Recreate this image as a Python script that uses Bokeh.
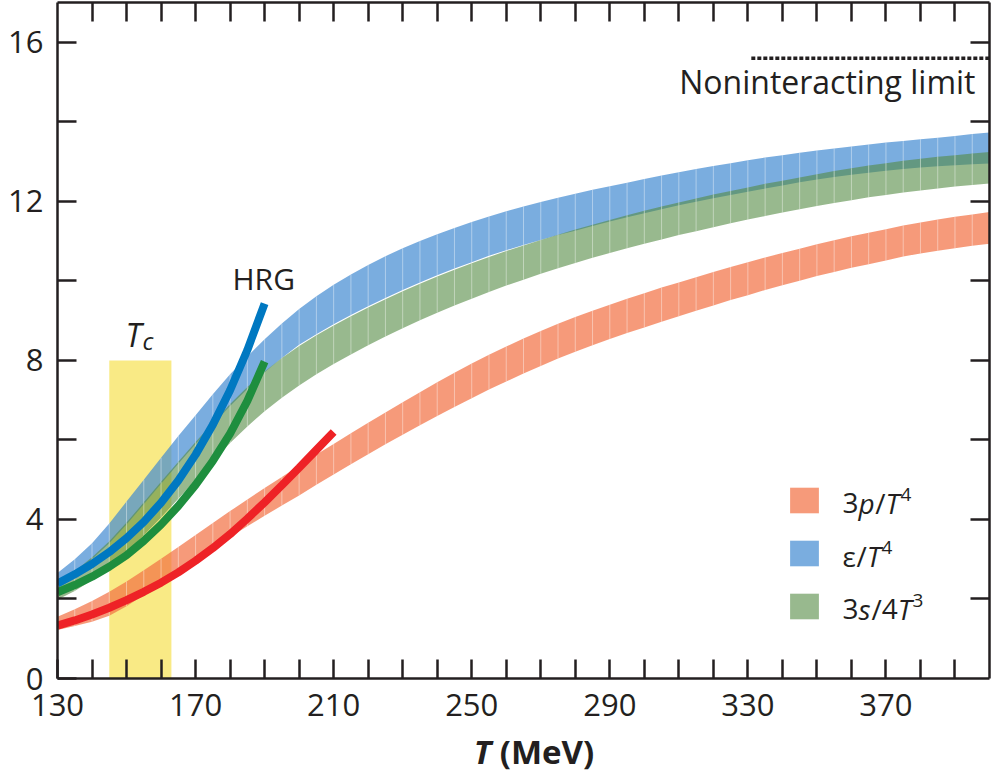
from bokeh.plotting import figure
from bokeh.models import Range1d, FixedTicker, LinearAxis, Label, Legend, LegendItem, Div
from bokeh.layouts import column
from bokeh.embed import file_html
from bokeh.resources import INLINE

# ---------------- data ----------------
T = list(range(130, 401, 5))

eps_hi = [2.65, 3.0, 3.4, 3.9, 4.45, 5.0, 5.55, 6.1, 6.62, 7.15, 7.65, 8.1, 8.53, 8.93,
          9.29, 9.61, 9.9, 10.16, 10.4, 10.62, 10.82, 11.0, 11.17, 11.33, 11.48, 11.62,
          11.75, 11.87, 11.98, 12.09, 12.19, 12.29, 12.38, 12.47, 12.56, 12.65, 12.73,
          12.81, 12.89, 12.96, 13.03, 13.1, 13.16, 13.22, 13.28, 13.33, 13.38, 13.43,
          13.48, 13.52, 13.56, 13.6, 13.64, 13.69, 13.73]
eps_lo = [2.35, 2.65, 3.0, 3.4, 3.87, 4.38, 4.9, 5.4, 5.9, 6.38, 6.85, 7.28, 7.7, 8.06,
          8.39, 8.66, 8.91, 9.14, 9.36, 9.57, 9.77, 9.96, 10.14, 10.31, 10.47, 10.63,
          10.77, 10.9, 11.03, 11.15, 11.26, 11.38, 11.49, 11.6, 11.7, 11.8, 11.9,
          11.99, 12.08, 12.16, 12.24, 12.32, 12.4, 12.48, 12.55, 12.61, 12.67, 12.72,
          12.77, 12.81, 12.85, 12.88, 12.91, 12.93, 12.95]
s_hi = [2.4, 2.7, 3.05, 3.45, 3.92, 4.43, 4.95, 5.45, 5.95, 6.43, 6.9, 7.33, 7.72, 8.06,
        8.36, 8.63, 8.88, 9.11, 9.33, 9.54, 9.74, 9.93, 10.11, 10.28, 10.44, 10.6,
        10.75, 10.89, 11.03, 11.16, 11.29, 11.41, 11.53, 11.65, 11.76, 11.87, 11.97,
        12.07, 12.17, 12.26, 12.35, 12.44, 12.52, 12.6, 12.68, 12.76, 12.83, 12.9,
        12.96, 13.02, 13.07, 13.12, 13.16, 13.2, 13.24]
s_lo = [1.98, 2.2, 2.47, 2.8, 3.18, 3.6, 4.05, 4.52, 5.0, 5.47, 5.92, 6.34, 6.72, 7.06,
        7.37, 7.65, 7.91, 8.15, 8.38, 8.6, 8.81, 9.01, 9.2, 9.38, 9.55, 9.72, 9.88,
        10.03, 10.18, 10.32, 10.45, 10.58, 10.7, 10.82, 10.93, 11.04, 11.15, 11.25,
        11.35, 11.45, 11.54, 11.63, 11.72, 11.8, 11.88, 11.96, 12.03, 12.1, 12.16,
        12.22, 12.27, 12.32, 12.37, 12.41, 12.45]
p_hi = [1.55, 1.74, 1.95, 2.18, 2.44, 2.72, 3.01, 3.31, 3.61, 3.91, 4.21, 4.5, 4.79,
        5.07, 5.35, 5.63, 5.9, 6.17, 6.43, 6.69, 6.95, 7.2, 7.45, 7.69, 7.92, 8.14,
        8.35, 8.55, 8.74, 8.92, 9.09, 9.25, 9.4, 9.55, 9.69, 9.83, 9.96, 10.09,
        10.22, 10.35, 10.47, 10.59, 10.7, 10.81, 10.92, 11.02, 11.12, 11.21, 11.3,
        11.39, 11.47, 11.54, 11.61, 11.67, 11.73]
p_lo = [1.22, 1.32, 1.43, 1.58, 1.82, 2.1, 2.39, 2.69, 2.99, 3.28, 3.56, 3.83, 4.09,
        4.35, 4.6, 4.87, 5.13, 5.39, 5.64, 5.89, 6.13, 6.37, 6.6, 6.83, 7.05, 7.27,
        7.47, 7.67, 7.86, 8.05, 8.22, 8.38, 8.54, 8.69, 8.83, 8.97, 9.11, 9.25,
        9.38, 9.52, 9.64, 9.77, 9.89, 10.0, 10.12, 10.22, 10.33, 10.42, 10.51,
        10.61, 10.69, 10.76, 10.82, 10.88, 10.93]

hrg_T_es = [130, 135, 140, 145, 150, 155, 160, 165, 170, 175, 180, 185, 190]
hrg_eps = [2.39, 2.62, 2.88, 3.18, 3.53, 3.94, 4.42, 4.98, 5.63, 6.38, 7.25, 8.26, 9.43]
hrg_s = [2.17, 2.35, 2.56, 2.81, 3.1, 3.46, 3.87, 4.34, 4.87, 5.47, 6.16, 6.98, 7.97]
hrg_T_p = [130, 135, 140, 145, 150, 155, 160, 165, 170, 175, 180, 185, 190, 195, 200, 205, 210]
hrg_p = [1.33, 1.46, 1.61, 1.78, 1.97, 2.18, 2.41, 2.67, 2.96, 3.28, 3.63, 4.02, 4.43,
         4.86, 5.3, 5.75, 6.2]

tc_range = [145, 163]
tc_top = [8.0]
sb_T = [331, 400]
sb_limit = [15.6, 15.6]

x_major = [130, 170, 210, 250, 290, 330, 370]
x_minor = [t for t in range(140, 400, 10) if t not in x_major]
x_all = list(range(140, 400, 10))
y_major = [0, 4, 8, 12, 16]
y_minor = [2, 6, 10, 14]
y_all = [2, 4, 6, 8, 10, 12, 14, 16]

# ---------------- styling ----------------
INK = "#231F20"
FONT = "Open Sans"
C_P, A_P = "#F26F41", 0.7
C_E, A_E = "#418AD1", 0.7
C_S, A_S = "#538A43", 0.6
YEL = "#F9EA85"

W, H = 992, 735
L, R, TOP, B = 57, 3, 2, 57
x0, x1, y0, y1 = 130, 400, 0, 17

p = figure(width=W, height=H, x_range=Range1d(x0, x1), y_range=Range1d(y0, y1),
           output_backend="svg", toolbar_location=None, margin=(0, 0, 0, 0),
           min_border_left=L, min_border_right=R, min_border_top=TOP, min_border_bottom=B)
p.grid.visible = False
p.outline_line_color = None
p.background_fill_color = "white"
p.border_fill_color = "white"

def style_axis(ax):
    ax.axis_line_color = INK
    ax.axis_line_width = 2.5
    ax.major_tick_line_color = INK
    ax.major_tick_line_width = 2.5
    ax.minor_tick_line_color = INK
    ax.minor_tick_line_width = 2.5
    ax.major_tick_in = 19
    ax.major_tick_out = 0
    ax.minor_tick_in = 19
    ax.minor_tick_out = 0
    ax.major_label_text_font = FONT
    ax.major_label_text_font_size = "31px"
    ax.major_label_text_color = INK

xa = p.xaxis[0]
xa.ticker = FixedTicker(ticks=x_major, minor_ticks=x_minor)
style_axis(xa)
xa.major_label_standoff = 15
ya = p.yaxis[0]
ya.ticker = FixedTicker(ticks=y_major, minor_ticks=y_minor)
style_axis(ya)
ya.major_label_standoff = 14

top_ax = LinearAxis(ticker=FixedTicker(ticks=[], minor_ticks=x_all))
style_axis(top_ax)
p.add_layout(top_ax, "above")
right_ax = LinearAxis(ticker=FixedTicker(ticks=[], minor_ticks=y_all))
style_axis(right_ax)
p.add_layout(right_ax, "right")

# Tc band
p.quad(left=[tc_range[0]], right=[tc_range[1]], bottom=[0], top=tc_top,
       fill_color=YEL, line_color=None)

def band(lo, hi, color, alpha):
    r = p.varea(x=T, y1=lo, y2=hi, fill_color=color, fill_alpha=alpha)
    p.segment(x0=T, y0=lo, x1=T, y1=hi, line_color="white", line_alpha=0.4, line_width=1)
    return r

r_e = band(eps_lo, eps_hi, C_E, A_E)
r_s = band(s_lo, s_hi, C_S, A_S)
r_p = band(p_lo, p_hi, C_P, A_P)

p.line(hrg_T_p, hrg_p, line_color="#EE2226", line_width=8, line_cap="butt")
p.line(hrg_T_es, hrg_eps, line_color="#0078C1", line_width=8, line_cap="butt")
p.line(hrg_T_es, hrg_s, line_color="#1E8E3E", line_width=8, line_cap="butt")

p.line(sb_T, sb_limit, line_color=INK, line_width=3.5, line_dash="4 2")

# legend swatches
legend = Legend(items=[LegendItem(label=" ", renderers=[r_p]),
                       LegendItem(label=" ", renderers=[r_e]),
                       LegendItem(label=" ", renderers=[r_s])],
                location=(729, 56), orientation="vertical",
                glyph_width=36, glyph_height=32, label_height=32, label_width=0,
                label_standoff=0, spacing=21, padding=0, margin=0,
                border_line_color=None, background_fill_alpha=0,
                label_text_font_size="12px", label_text_color=None)
p.add_layout(legend)

# -------- text helpers (pixel layout -> data coords for annotations) --------
FH = H + 40  # full page height of the reference layout
sx = (W - L - R) / (x1 - x0)
sy = (H - TOP - B) / (y1 - y0)
SHIFT = 11
def X(px):
    return x0 + (px - L) / sx
def Y(py):
    return y0 + (H - B - (py - SHIFT)) / sy

EM = {("3", "normal"): .572, ("4", "normal"): .572, ("/", "normal"): .367,
      ("p", "italic"): .60, ("T", "italic"): .53, ("s", "italic"): .46,
      ("ε", "normal"): .50, ("c", "italic"): .48}

def rich(px, py, runs):
    for txt, size, style, dy in runs:
        p.add_layout(Label(x=X(px), y=Y(py - dy), text=txt, text_font=FONT,
                           text_font_size=f"{size}px", text_font_style=style,
                           text_color=INK, text_align="left", text_baseline="alphabetic"))
        px += EM.get((txt, style), .55) * size

rich(842, 513, [("3", 28, "normal", 0), ("p", 28, "italic", 0), ("/", 28, "normal", 0),
                ("T", 28, "italic", 0), ("4", 19, "normal", 8)])
rich(842, 566, [("ε", 28, "normal", 0), ("/", 28, "normal", 0),
                ("T", 28, "italic", 0), ("4", 19, "normal", 8)])
rich(842, 619, [("3", 28, "normal", 0), ("s", 28, "italic", 0), ("/", 28, "normal", 0),
                ("4", 28, "normal", 0), ("T", 28, "italic", 0), ("3", 19, "normal", 8)])
rich(125, 345, [("T", 32, "italic", 0), ("c", 24, "italic", -6)])

p.add_layout(Label(x=X(232), y=Y(289), text="HRG", text_font=FONT, text_font_size="30px",
                   text_color=INK, text_align="left", text_baseline="alphabetic"))
p.add_layout(Label(x=X(975), y=Y(92), text="Noninteracting limit", text_font=FONT,
                   text_font_size="32px", text_color=INK, text_align="right",
                   text_baseline="alphabetic"))

xlabel = Div(text=('<div style="font-family:\'Open Sans\';font-size:33px;font-weight:bold;'
                   'color:#231F20;text-align:center;line-height:34px;padding-left:76px;'
                   'box-sizing:border-box;width:992px;white-space:nowrap;">'
                   '<i>T</i> (MeV)</div>'),
             width=W, height=FH - H, margin=(0, 0, 0, 0))

layout = column(p, xlabel, spacing=0, margin=(0, 0, 0, 0))
open("out.html", "w").write(file_html(layout, INLINE))
